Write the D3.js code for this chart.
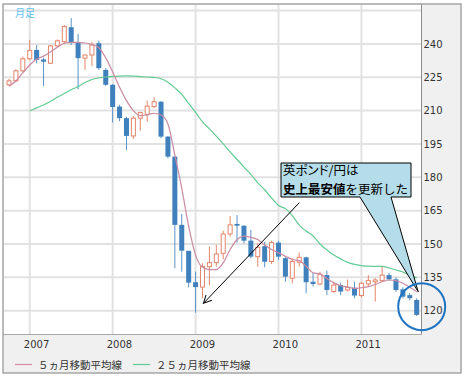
<!DOCTYPE html>
<html>
<head>
<meta charset="utf-8">
<script src="https://cdn.jsdelivr.net/npm/d3@7"></script>
<style>
  body { margin: 0; background: #fff; }
  svg { display: block; }
  text { font-family: "DejaVu Sans", sans-serif; }
  .jp { font-family: "Noto Sans CJK JP", sans-serif; }
</style>
</head>
<body>
<svg id="chart" width="464" height="377"></svg>
<script>
// monthly candles, GBP/JPY
var months = ["2006/10","2006/11","2006/12",
  "2007/01","2007/02","2007/03","2007/04","2007/05","2007/06","2007/07","2007/08","2007/09","2007/10","2007/11","2007/12",
  "2008/01","2008/02","2008/03","2008/04","2008/05","2008/06","2008/07","2008/08","2008/09","2008/10","2008/11","2008/12",
  "2009/01","2009/02","2009/03","2009/04","2009/05","2009/06","2009/07","2009/08","2009/09","2009/10","2009/11","2009/12",
  "2010/01","2010/02","2010/03","2010/04","2010/05","2010/06","2010/07","2010/08","2010/09","2010/10","2010/11","2010/12",
  "2011/01","2011/02","2011/03","2011/04","2011/05","2011/06","2011/07","2011/08","2011/09"];

var open = [221.6,223.4,227.9,
  233.3,237.3,233.0,231.3,239.1,241.0,247.5,240.6,233.6,235.0,240.3,228.3,
  221.6,211.8,206.6,198.6,206.6,208.3,211.8,214.0,198.3,189.3,158.6,146.9,
  132.8,130.6,139.8,141.6,145.8,154.5,159.0,158.2,151.5,144.3,149.0,142.1,
  150.6,143.6,134.6,141.8,144.0,133.0,132.0,136.0,128.6,131.5,129.3,130.3,
  126.8,132.0,133.0,133.5,136.0,134.1,129.6,127.0,124.8];
var close = [223.4,227.9,233.3,
  237.0,232.8,232.0,239.1,241.4,247.8,240.6,233.6,235.0,239.5,229.1,221.6,
  211.6,206.6,198.6,206.6,209.1,212.0,214.0,198.3,189.3,158.6,147.0,132.6,
  130.6,139.8,141.6,145.5,154.5,158.6,158.2,151.5,144.3,148.5,142.0,150.6,
  144.3,135.3,142.1,144.0,132.8,132.0,136.4,129.3,131.5,128.6,130.5,126.8,
  132.3,133.5,133.8,136.0,134.1,129.3,126.3,125.6,118.1];
var high = [224.3,228.6,234.3,
  241.8,239.5,233.8,239.5,242.0,248.5,251.6,244.5,235.2,240.8,241.5,229.1,
  222.0,212.6,207.2,207.5,209.5,214.5,216.0,214.2,198.5,189.3,163.5,146.9,
  137.5,141.3,148.8,149.6,156.0,162.6,163.0,158.4,156.3,150.5,151.0,151.5,
  151.5,144.5,143.6,146.1,144.3,136.8,137.5,138.0,133.0,132.6,134.0,133.0,
  133.0,136.0,134.6,139.8,137.0,135.0,130.5,128.0,125.6];
var low = [221.1,222.8,227.3,
  232.8,231.3,221.1,231.0,238.5,240.3,239.5,219.6,228.3,230.0,228.3,221.1,
  204.6,205.2,192.3,197.3,200.9,205.0,211.1,197.6,188.5,139.1,137.5,130.5,
  119.1,125.6,131.5,139.8,143.1,153.3,150.6,150.3,143.6,139.8,139.5,141.0,
  142.8,133.0,132.3,139.8,127.8,130.8,131.5,127.0,128.0,127.0,128.6,125.6,
  126.0,130.8,124.1,133.0,133.5,128.5,125.5,124.6,117.6];

// moving averages as drawn
var ma5 = [221.0,223.3,227.0,
  230.5,233.2,234.5,236.4,238.5,240.3,240.7,240.7,240.4,239.7,238.3,233.7,
  227.4,220.5,214.5,210.0,207.7,208.1,208.8,208.0,204.0,190.0,175.0,158.0,
  145.0,139.5,138.5,138.5,141.5,147.5,152.0,153.5,153.0,152.0,149.5,147.5,
  146.0,144.5,143.0,142.5,140.0,137.0,136.5,134.5,132.5,131.2,130.6,130.0,
  130.3,130.8,131.8,133.0,133.8,133.5,132.3,130.5,128.5];
var ma25 = [null,null,null,
  209.9,211.2,212.5,214.1,216.0,217.7,219.4,220.8,222.6,224.0,224.7,225.1,
  225.3,225.5,225.6,225.5,225.3,225.1,224.9,224.3,222.8,220.2,217.3,213.2,
  209.2,204.9,201.8,198.5,195.0,191.4,188.0,184.6,181.3,177.5,174.4,170.7,
  167.3,165.9,162.8,158.5,155.8,153.6,150.0,147.3,145.0,143.3,141.7,140.8,
  140.3,140.0,139.9,139.9,139.2,138.3,137.4,136.0,134.7];

var yTicks = [120, 135, 150, 165, 180, 195, 210, 225, 240];
var yGrid = [120, 135, 150, 165, 180, 195, 210, 225, 240, 255];
var legendNames = ["５ヵ月移動平均線", "２５ヵ月移動平均線"];

var svg = d3.select("#chart");

var x = d3.scalePoint().domain(months).range([9, 416.7]);
var y = d3.scaleLinear().domain([109.5, 257.5]).range([334, 5]);

var janMonths = months.filter(m => m.endsWith("/01"));

// frame + plot background
svg.append("rect").attr("x", 3).attr("y", 4).attr("width", 458).attr("height", 369)
  .attr("fill", "#f0f0f0").attr("stroke", "#a6a6a6").attr("stroke-width", 1.5);
svg.append("rect").attr("x", 4).attr("y", 5).attr("width", 417.5).attr("height", 329)
  .attr("fill", "#fff");

// grid
svg.selectAll(".hgrid").data(yGrid).enter().append("line")
  .attr("x1", 4).attr("x2", 421).attr("y1", d => y(d)).attr("y2", d => y(d))
  .attr("stroke", "#e2e2e2").attr("stroke-width", 2);
svg.selectAll(".vgrid").data(janMonths).enter().append("line")
  .attr("x1", d => x(d)).attr("x2", d => x(d)).attr("y1", 5).attr("y2", 334)
  .attr("stroke", "#e2e2e2").attr("stroke-width", 2);

svg.append("line").attr("x1", 421.5).attr("x2", 421.5).attr("y1", 4).attr("y2", 334.5)
  .attr("stroke", "#8c8c8c");
svg.append("line").attr("x1", 3).attr("x2", 421.5).attr("y1", 334.5).attr("y2", 334.5)
  .attr("stroke", "#a8a8a8");

// axes
var ya = svg.append("g").attr("transform", "translate(422,0)")
  .call(d3.axisRight(y).tickValues(yTicks).tickSize(0).tickPadding(1.5));
ya.select(".domain").remove();
ya.selectAll("text").attr("font-size", 10).attr("fill", "#333").style("font-family", "DejaVu Sans");

var xa = svg.append("g").attr("transform", "translate(0,334)")
  .call(d3.axisBottom(x).tickValues(janMonths).tickFormat(m => m.slice(0, 4)).tickSize(0).tickPadding(7));
xa.select(".domain").remove();
xa.selectAll("text").attr("font-size", 10).attr("fill", "#333").attr("dx", 6.3).style("font-family", "DejaVu Sans");

svg.append("text").attr("class", "jp").attr("x", 15).attr("y", 16.5)
  .attr("font-size", 10).attr("fill", "#5ec3ee").text("月足");

// candles
var candles = months.map((m, i) => ({ m: m, o: open[i], h: high[i], l: low[i], c: close[i] }));
var up = "#e4856a", down = "#3f80bd";

var cg = svg.append("g");
cg.selectAll(".wick").data(candles).enter().append("line")
  .attr("x1", d => x(d.m)).attr("x2", d => x(d.m))
  .attr("y1", d => y(d.h)).attr("y2", d => y(d.l))
  .attr("stroke", d => d.c >= d.o ? up : "#5a93c8").attr("stroke-width", 1);
cg.selectAll(".body").data(candles).enter().append("rect")
  .attr("x", d => d.c >= d.o ? x(d.m) - 2 : x(d.m) - 2.5)
  .attr("width", d => d.c >= d.o ? 4 : 5)
  .attr("y", d => y(Math.max(d.o, d.c)))
  .attr("height", d => Math.max(1, Math.abs(y(d.o) - y(d.c))))
  .attr("fill", d => d.c >= d.o ? "#fff" : down)
  .attr("stroke", d => d.c >= d.o ? up : "none").attr("stroke-width", 1);

// moving averages
var line = d3.line().defined(d => d.v != null).x(d => x(d.m)).y(d => y(d.v)).curve(d3.curveMonotoneX);
svg.append("path").datum(months.map((m, i) => ({ m: m, v: ma25[i] })))
  .attr("d", line).attr("fill", "none").attr("stroke", "#62cb93").attr("stroke-width", 1.2);
svg.append("path").datum(months.map((m, i) => ({ m: m, v: ma5[i] })))
  .attr("d", line).attr("fill", "none").attr("stroke", "#c98aa3").attr("stroke-width", 1.2);

// legend
var legendColors = ["#d58fa3", "#62cb93"];
var legendX = [15, 133];
legendNames.forEach(function (name, i) {
  svg.append("line").attr("x1", legendX[i]).attr("x2", legendX[i] + 17)
    .attr("y1", 364.5).attr("y2", 364.5).attr("stroke", legendColors[i]).attr("stroke-width", 1.2);
  svg.append("text").attr("class", "jp").attr("x", legendX[i] + 23).attr("y", 368.5)
    .attr("font-size", 10.5).attr("fill", "#333").text(name);
});

// annotation: arrow to the 2009 low
svg.append("defs").append("marker").attr("id", "arr")
  .attr("viewBox", "0 0 10 10").attr("refX", 9).attr("refY", 5)
  .attr("markerWidth", 9).attr("markerHeight", 9).attr("orient", "auto")
  .append("path").attr("d", "M0,0.5 L9,5 L0,9.5").attr("fill", "none").attr("stroke", "#000").attr("stroke-width", 1.1);
svg.append("line")
  .attr("x1", 299.3).attr("y1", 202.7)
  .attr("x2", x(months[28]) + 1).attr("y2", y(123.3))
  .attr("stroke", "#000").attr("stroke-width", 1).attr("marker-end", "url(#arr)");

// callout pointing to the last candle
var tipX = x(months[59]) + 1.5, tipY = y(128.5);
svg.append("path")
  .attr("d", "M281,163 H411 V197 H391 L" + tipX + "," + tipY + " L360,197 H281 Z")
  .attr("fill", "#b4dde9").attr("stroke", "#000").attr("stroke-width", 1);

var t1 = svg.append("text").attr("class", "jp").attr("x", 283).attr("y", 174.5)
  .attr("font-size", 12.5).attr("fill", "#000").style("font-feature-settings", "'palt'")
  .text("英ポンド/円は");
var t2 = svg.append("text").attr("class", "jp").attr("x", 283).attr("y", 194)
  .attr("font-size", 12.5).attr("fill", "#000");
t2.append("tspan").attr("font-weight", "bold").text("史上最安値");
t2.append("tspan").text("を更新した");

// highlight circle
svg.append("circle").attr("cx", x(months[59]) + 5).attr("cy", y(121.8)).attr("r", 23.5)
  .attr("fill", "none").attr("stroke", "#1f74c2").attr("stroke-width", 2);
</script>
</body>
</html>
